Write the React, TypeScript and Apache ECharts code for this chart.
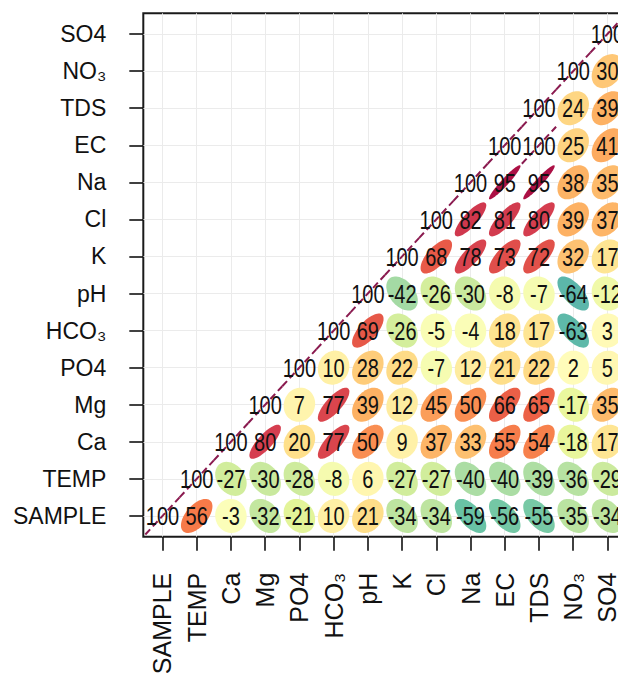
import React, { useEffect, useRef } from 'react';
import * as echarts from 'echarts';

// Variable order: index 0 = bottom row / left column
const variables = ['SAMPLE', 'TEMP', 'Ca', 'Mg', 'PO4', 'HCO₃', 'pH', 'K', 'Cl', 'Na', 'EC', 'TDS', 'NO₃', 'SO4'];

// Correlation (x100) rows, starting at the diagonal and going right
const rowSAMPLE = [100, 56, -3, -32, -21, 10, 21, -34, -34, -59, -56, -55, -35, -34];
const rowTEMP = [100, -27, -30, -28, -8, 6, -27, -27, -40, -40, -39, -36, -29];
const rowCa = [100, 80, 20, 77, 50, 9, 37, 33, 55, 54, -18, 17];
const rowMg = [100, 7, 77, 39, 12, 45, 50, 66, 65, -17, 35];
const rowPO4 = [100, 10, 28, 22, -7, 12, 21, 22, 2, 5];
const rowHCO3 = [100, 69, -26, -5, -4, 18, 17, -63, 3];
const rowPH = [100, -42, -26, -30, -8, -7, -64, -12];
const rowK = [100, 68, 78, 73, 72, 32, 17];
const rowCl = [100, 82, 81, 80, 39, 37];
const rowNa = [100, 95, 95, 38, 35];
const rowEC = [100, 100, 25, 41];
const rowTDS = [100, 24, 39];
const rowNO3 = [100, 30];
const rowSO4 = [100];

const rows = [rowSAMPLE, rowTEMP, rowCa, rowMg, rowPO4, rowHCO3, rowPH, rowK, rowCl, rowNa, rowEC, rowTDS, rowNO3, rowSO4];

const spectral = ['#5E4FA2', '#3288BD', '#66C2A5', '#ABDDA4', '#E6F598', '#FFFFBF', '#FEE08B', '#FDAE61', '#F46D43', '#D53E4F', '#9E0142'];

const fontFamily = '"Liberation Sans", Arial, Helvetica, sans-serif';
const ELL_SCALE = 0.92;

export default function App() {
  const ref = useRef<HTMLDivElement>(null);

  useEffect(() => {
    const chart = echarts.init(ref.current!, null, { renderer: 'svg' });
    const data: number[][] = [];
    rows.forEach((row, i) => row.forEach((v, k) => data.push([i + k, i, v])));
    const ticks = variables.map((_, i) => i);

    const renderItem = (params: any, api: any) => {
      const x = api.value(0);
      const y = api.value(1);
      const v = api.value(2);
      const c = api.coord([x, y]);
      const s = api.size([1, 1]);
      const w = s[0];
      const h = s[1];
      const children: any[] = [];
      if (v >= 100) {
        children.push({
          type: 'line',
          shape: { x1: c[0] - 0.5 * w, y1: c[1] + 0.5 * h, x2: c[0] + 0.5 * w, y2: c[1] - 0.5 * h },
          style: { stroke: '#8a1a4f', lineWidth: 2, lineDash: [7, 4] },
        });
      } else {
        const rho = v / 100;
        const a = Math.acos(rho) / 2;
        const pts: number[][] = [];
        const n = 60;
        for (let i = 0; i < n; i++) {
          const k = (i / n) * Math.PI * 2;
          const ex = (Math.cos(k + a) / 2) * ELL_SCALE;
          const ey = (Math.cos(k - a) / 2) * ELL_SCALE;
          pts.push([c[0] + ex * w, c[1] - ey * h]);
        }
        children.push({
          type: 'polygon',
          shape: { points: pts },
          style: { fill: api.visual('color'), stroke: null },
        });
      }
      children.push({
        type: 'text',
        x: c[0],
        y: c[1] + 1,
        scaleX: 0.8,
        style: {
          text: String(v),
          x: 0,
          y: 0,
          align: 'center',
          verticalAlign: 'middle',
          fontSize: 25,
          fontFamily,
          fill: '#111',
        },
      });
      return { type: 'group', children };
    };

    chart.setOption({
      animation: false,
      grid: {
        left: 143.3,
        top: 13.3,
        width: 483.3,
        height: 523.4,
        show: true,
        borderColor: '#1a1a1a',
        borderWidth: 2,
        backgroundColor: 'transparent',
        containLabel: false,
        outerBoundsMode: 'none',
      },
      xAxis: {
        type: 'value',
        min: -0.56,
        max: 13.56,
        axisLine: { show: false, onZero: false },
        axisTick: { show: true, customValues: ticks, length: 14, lineStyle: { color: '#111', width: 1.6 } },
        axisLabel: {
          customValues: ticks,
          formatter: (val: number) => variables[Math.round(val)] ?? '',
          rotate: 90,
          margin: 36,
          fontSize: 25,
          color: '#111',
          fontFamily,
        },
        splitLine: { show: true, lineStyle: { color: '#ebebeb', width: 1 } },
      },
      yAxis: {
        type: 'value',
        min: -0.56,
        max: 13.56,
        axisLine: { show: false, onZero: false },
        axisTick: { show: true, customValues: ticks, length: 14, lineStyle: { color: '#111', width: 1.6 } },
        axisLabel: {
          customValues: ticks,
          formatter: (val: number) => variables[Math.round(val)] ?? '',
          margin: 37,
          fontSize: 23,
          color: '#111',
          fontFamily,
        },
        splitLine: { show: true, lineStyle: { color: '#ebebeb', width: 1 } },
      },
      visualMap: {
        show: false,
        type: 'continuous',
        dimension: 2,
        min: -100,
        max: 100,
        seriesIndex: 0,
        inRange: { color: spectral },
      },
      series: [
        {
          type: 'custom',
          renderItem,
          data,
          clip: false,
          encode: { x: 0, y: 1 },
        },
      ],
    });
    return () => chart.dispose();
  }, []);

  return <div ref={ref} style={{ position: 'absolute', left: 0, top: 0, width: 618, height: 678 }} />;
}
